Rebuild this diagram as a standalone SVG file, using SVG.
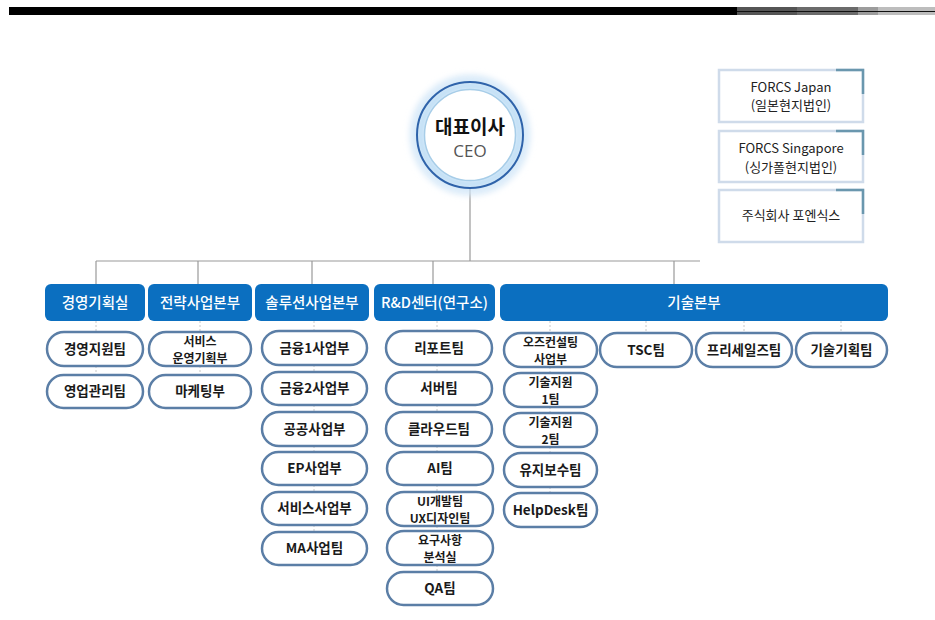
<svg xmlns="http://www.w3.org/2000/svg" width="935" height="620" viewBox="0 0 935 620">
<defs>
<style>
.hdr rect{fill:#0b6fc0}
.hdr text{fill:#fff;font-family:"Noto Sans CJK KR","Noto Sans",sans-serif;font-size:14.5px;font-weight:500;text-anchor:middle}
.pill rect{fill:#fff;stroke:#5b7ea6;stroke-width:2.5}
.pill text{fill:#1a1a1a;font-family:"Noto Sans CJK KR","Noto Sans",sans-serif;font-size:13.5px;font-weight:bold;text-anchor:middle}
.pill text.two{font-size:12px}
.sub rect{fill:#fff;stroke:#cfdbea;stroke-width:2.5}
.sub path{fill:none;stroke:#6a97ae;stroke-width:2.5}
.sub text{fill:#222;font-family:"Noto Sans CJK KR","Noto Sans",sans-serif;font-size:13px;text-anchor:middle}
.ln{stroke:#9a9a9a;stroke-width:1.2;fill:none}
.dl{stroke:#c8c8c8;stroke-width:1;stroke-dasharray:2 2;fill:none}
</style>
<filter id="blur" x="-20%" y="-20%" width="140%" height="140%"><feGaussianBlur stdDeviation="3"/></filter>
</defs>
<rect width="935" height="620" fill="#fff"/>
<g id="topbar">
<rect x="9" y="7" width="728" height="8" fill="#000"/>
<rect x="737" y="7" width="60" height="8" fill="#555"/>
<rect x="797" y="7" width="61" height="8" fill="#6b6b6b"/>
<rect x="858" y="7" width="20" height="8" fill="#9c9c9c"/>
<rect x="878" y="7" width="57" height="8" fill="#bdbdbd"/>
<line x1="737" y1="11.5" x2="935" y2="11.5" stroke="#111" stroke-width="1"/>
</g>
<g id="connectors">
<path class="ln" d="M470 188V261M96 261H700M96 261V284M198 261V284M312 261V284M433 261V284M674 261V284"/>
<path class="dl" d="M96 321V332M96 366V375M200 321V332M200 366V375M314 321V331M314 365V372M314 405V412M314 446V452M314 485V492M314 525V532M437 321V331M437 365V372M437 405V412M437 446V452M437 485V492M437 526V531M437 565V572M550 321V333M550 367V373M550 407V413M550 447V453M550 487V493M646 321V333M744 321V333M841 321V333"/>
</g>
<g id="ceo">
<circle cx="470" cy="135" r="57" fill="none" stroke="#d6e8f8" stroke-width="6" filter="url(#blur)"/>
<circle cx="470" cy="135" r="49" fill="none" stroke="#b8daf4" stroke-width="8" filter="url(#blur)"/>
<circle cx="470" cy="135" r="53" fill="none" stroke="#2f63aa" stroke-width="2"/>
<circle cx="470" cy="135" r="45.5" fill="#fff" stroke="#a7cde8" stroke-width="1.5"/>
<text x="470" y="134" text-anchor="middle" font-family="'Noto Sans CJK KR',sans-serif" font-size="19" font-weight="bold" fill="#111">대표이사</text>
<text x="470" y="157" text-anchor="middle" font-family="'Open Sans','Noto Sans',sans-serif" font-size="17" fill="#555">CEO</text>
</g>
<g id="japan" class="sub">
<rect x="719" y="70" width="144" height="52"/>
<path d="M836 70H863V94"/>
<text x="791" y="92">FORCS Japan</text>
<text x="791" y="110">(일본현지법인)</text>
</g>
<g id="singapore" class="sub">
<rect x="719" y="131" width="144" height="51"/>
<path d="M836 131H863V155"/>
<text x="791" y="153">FORCS Singapore</text>
<text x="791" y="172">(싱가폴현지법인)</text>
</g>
<g id="forensics" class="sub">
<rect x="719" y="190" width="144" height="52"/>
<path d="M836 190H863V214"/>
<text x="791" y="220">주식회사 포엔식스</text>
</g>
<g id="h1" class="hdr"><rect x="45" y="284" width="100" height="37" rx="6"/><text x="95" y="308">경영기획실</text></g>
<g id="h2" class="hdr"><rect x="148" y="284" width="104" height="37" rx="6"/><text x="200" y="308">전략사업본부</text></g>
<g id="h3" class="hdr"><rect x="255" y="284" width="114" height="37" rx="6"/><text x="312" y="308">솔루션사업본부</text></g>
<g id="h4" class="hdr"><rect x="374" y="284" width="121" height="37" rx="6"/><text x="434.5" y="308">R&amp;D센터(연구소)</text></g>
<g id="h5" class="hdr"><rect x="500" y="284" width="388" height="37" rx="6"/><text x="694" y="308">기술본부</text></g>
<g id="p1a" class="pill"><rect x="47" y="332" width="96" height="34" rx="17"/><text x="95" y="354">경영지원팀</text></g>
<g id="p1b" class="pill"><rect x="47" y="375" width="96" height="33" rx="16.5"/><text x="95" y="396">영업관리팀</text></g>
<g id="p2a" class="pill"><rect x="149" y="332" width="102" height="34" rx="17"/><text class="two" x="200" y="345.5">서비스</text><text class="two" x="200" y="363">운영기획부</text></g>
<g id="p2b" class="pill"><rect x="149" y="375" width="102" height="33" rx="16.5"/><text x="200" y="396">마케팅부</text></g>
<g id="p3a" class="pill"><rect x="262" y="331" width="105" height="34" rx="17"/><text x="314.5" y="353">금융1사업부</text></g>
<g id="p3b" class="pill"><rect x="262" y="372" width="105" height="33" rx="16.5"/><text x="314.5" y="393">금융2사업부</text></g>
<g id="p3c" class="pill"><rect x="262" y="412" width="105" height="34" rx="17"/><text x="314.5" y="434">공공사업부</text></g>
<g id="p3d" class="pill"><rect x="262" y="452" width="105" height="33" rx="16.5"/><text x="314.5" y="473">EP사업부</text></g>
<g id="p3e" class="pill"><rect x="262" y="492" width="105" height="33" rx="16.5"/><text x="314.5" y="513">서비스사업부</text></g>
<g id="p3f" class="pill"><rect x="262" y="532" width="105" height="33" rx="16.5"/><text x="314.5" y="553">MA사업팀</text></g>
<g id="p4a" class="pill"><rect x="386" y="331" width="106" height="34" rx="17"/><text x="439" y="353">리포트팀</text></g>
<g id="p4b" class="pill"><rect x="386" y="372" width="106" height="33" rx="16.5"/><text x="439" y="393">서버팀</text></g>
<g id="p4c" class="pill"><rect x="386" y="412" width="106" height="34" rx="17"/><text x="439" y="434">클라우드팀</text></g>
<g id="p4d" class="pill"><rect x="387" y="452" width="106" height="33" rx="16.5"/><text x="440" y="473">AI팀</text></g>
<g id="p4e" class="pill"><rect x="387" y="492" width="106" height="34" rx="17"/><text class="two" x="440" y="505.5">UI개발팀</text><text class="two" x="440" y="523">UX디자인팀</text></g>
<g id="p4f" class="pill"><rect x="387" y="531" width="106" height="34" rx="17"/><text class="two" x="440" y="544.5">요구사항</text><text class="two" x="440" y="562">분석실</text></g>
<g id="p4g" class="pill"><rect x="387" y="572" width="106" height="33" rx="16.5"/><text x="440" y="593">QA팀</text></g>
<g id="p5a" class="pill"><rect x="504" y="333" width="93" height="34" rx="17"/><text class="two" x="550.5" y="346.5">오즈컨설팅</text><text class="two" x="550.5" y="364">사업부</text></g>
<g id="p5b" class="pill"><rect x="504" y="373" width="93" height="34" rx="17"/><text class="two" x="550.5" y="386.5">기술지원</text><text class="two" x="550.5" y="404">1팀</text></g>
<g id="p5c" class="pill"><rect x="504" y="413" width="93" height="34" rx="17"/><text class="two" x="550.5" y="426.5">기술지원</text><text class="two" x="550.5" y="444">2팀</text></g>
<g id="p5d" class="pill"><rect x="504" y="453" width="93" height="34" rx="17"/><text x="550.5" y="475">유지보수팀</text></g>
<g id="p5e" class="pill"><rect x="504" y="493" width="93" height="34" rx="17"/><text x="550.5" y="515">HelpDesk팀</text></g>
<g id="p6" class="pill"><rect x="600" y="333" width="92" height="34" rx="17"/><text x="646" y="355">TSC팀</text></g>
<g id="p7" class="pill"><rect x="696" y="333" width="96" height="34" rx="17"/><text x="744" y="355">프리세일즈팀</text></g>
<g id="p8" class="pill"><rect x="796" y="333" width="91" height="34" rx="17"/><text x="841.5" y="355">기술기획팀</text></g>
</svg>
